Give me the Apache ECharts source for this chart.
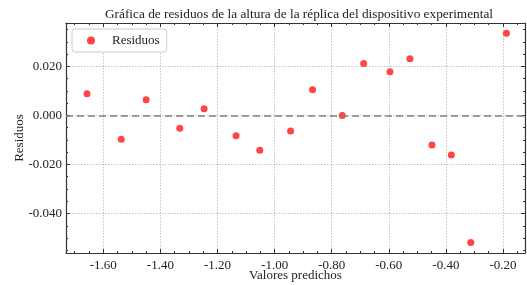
<!DOCTYPE html>
<html>
<head>
<meta charset="utf-8">
<script src="https://cdn.jsdelivr.net/npm/echarts@6/dist/echarts.min.js"></script>
<style>
  html, body { margin: 0; padding: 0; background: #fff; }
  #chart { width: 527px; height: 285px; }
</style>
</head>
<body>
<div id="chart"></div>
<script>
// valores
var predichos = [-1.657, -1.537, -1.450, -1.332, -1.247, -1.135, -1.052, -0.944, -0.867,
  -0.763, -0.688, -0.596, -0.526, -0.449, -0.381, -0.313, -0.188];
var residuos = [0.0088, -0.0097, 0.0064, -0.0052, 0.0027, -0.0083, -0.0142, -0.0063, 0.0105,
  0.0000, 0.0212, 0.0178, 0.0231, -0.0121, -0.0161, -0.0518, 0.0335];

var xMajor = [-1.6, -1.4, -1.2, -1.0, -0.8, -0.6, -0.4, -0.2];
var xMinor = [-1.7, -1.65, -1.55, -1.5, -1.45, -1.35, -1.3, -1.25, -1.15, -1.1, -1.05,
  -0.95, -0.9, -0.85, -0.75, -0.7, -0.65, -0.55, -0.5, -0.45, -0.35, -0.3, -0.25, -0.15];
var yMajor = [-0.04, -0.02, 0.0, 0.02];
var yMinor = [-0.055, -0.05, -0.045, -0.035, -0.03, -0.025, -0.015, -0.01, -0.005,
  0.005, 0.01, 0.015, 0.025, 0.03, 0.035];

var xMin = -1.7306, xMax = -0.123;
var yMin = -0.0561, yMax = 0.0377;

var serif = "'Liberation Serif', 'DejaVu Serif', serif";
var axisColor = "#333";

function xAxisDef(pos, values, len, showLabel, showLine, showSplit) {
  return {
    type: "value", position: pos, min: xMin, max: xMax,
    axisLine: { show: showLine, onZero: false, lineStyle: { color: axisColor, width: 1.2 } },
    axisTick: { show: true, inside: true, length: len, customValues: values,
      lineStyle: { color: axisColor, width: 1 } },
    axisLabel: { show: showLabel, customValues: values, margin: 6,
      color: "#222", fontFamily: serif, fontSize: 13,
      formatter: function (v) { return v.toFixed(2); } },
    splitLine: { show: showSplit, lineStyle: { color: "#b5b5b5", type: [1.5, 1.5], width: 0.8 } }
  };
}
function yAxisDef(pos, values, len, showLabel, showLine, showSplit) {
  return {
    type: "value", position: pos, min: yMin, max: yMax,
    axisLine: { show: showLine, onZero: false, lineStyle: { color: axisColor, width: 1.2 } },
    axisTick: { show: true, inside: true, length: len, customValues: values,
      lineStyle: { color: axisColor, width: 1 } },
    axisLabel: { show: showLabel, customValues: values, margin: 4,
      color: "#222", fontFamily: serif, fontSize: 13,
      formatter: function (v) { return v.toFixed(3); } },
    splitLine: { show: showSplit, lineStyle: { color: "#b5b5b5", type: [1.5, 1.5], width: 0.8 } }
  };
}

var xAxes = [
  xAxisDef("bottom", xMajor, 4, true, true, true),
  xAxisDef("bottom", xMinor, 2, false, false, false),
  xAxisDef("top", xMajor, 4, false, true, false),
  xAxisDef("top", xMinor, 2, false, false, false)
];
xAxes[0].name = "Valores predichos";
xAxes[0].nameLocation = "middle";
xAxes[0].nameGap = 16;
xAxes[0].nameMoveOverlap = false;
xAxes[0].nameTextStyle = { fontFamily: serif, fontSize: 13, color: "#222" };

var yAxes = [
  yAxisDef("left", yMajor, 4, true, true, true),
  yAxisDef("left", yMinor, 2, false, false, false),
  yAxisDef("right", yMajor, 4, false, true, false),
  yAxisDef("right", yMinor, 2, false, false, false)
];
yAxes[0].name = "Residuos";
yAxes[0].nameLocation = "middle";
yAxes[0].nameGap = 40;
yAxes[0].nameMoveOverlap = false;
yAxes[0].nameTextStyle = { fontFamily: serif, fontSize: 13, color: "#222" };

var chart = echarts.init(document.getElementById("chart"));
chart.setOption({
  animation: false,
  backgroundColor: "#fff",
  title: {
    text: "Gráfica de residuos de la altura de la réplica del dispositivo experimental",
    left: 294, top: 3, textAlign: "center",
    textStyle: { fontFamily: serif, fontSize: 13.3, fontWeight: "normal", color: "#222" }
  },
  legend: {
    left: 72, top: 29, orient: "vertical",
    padding: [5, 7, 5, 15],
    borderColor: "#ccc", borderWidth: 1, borderRadius: 3, backgroundColor: "#fff",
    itemWidth: 8, itemHeight: 8, itemGap: 5,
    textStyle: { fontFamily: serif, fontSize: 13, color: "#222", padding: [0, 0, 0, 12] },
    data: [{ name: "Residuos", icon: "circle" }]
  },
  grid: { left: 66, right: 2, top: 23, bottom: 32, containLabel: false, outerBoundsMode: "none" },
  xAxis: xAxes,
  yAxis: yAxes,
  series: [{
    name: "Residuos",
    type: "scatter",
    symbolSize: 7,
    itemStyle: { color: "#ff4545", opacity: 1 },
    data: predichos.map(function (x, i) { return [x, residuos[i]]; }),
    markLine: {
      silent: true, symbol: "none", label: { show: false },
      lineStyle: { color: "#808080", type: [7, 4], width: 1.5 },
      data: [{ yAxis: 0 }]
    },
    z: 3
  }]
});
</script>
</body>
</html>
